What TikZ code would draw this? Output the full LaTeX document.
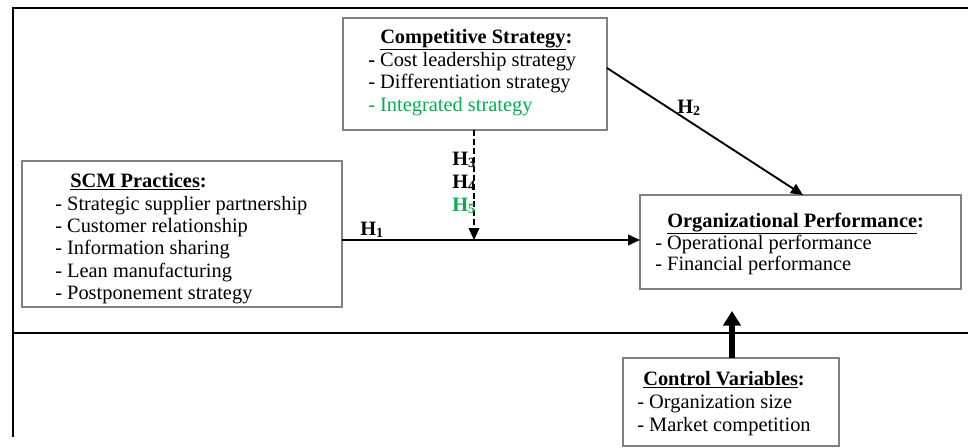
\documentclass[tikz,border=0pt]{standalone}
\usepackage{fontspec}
\setmainfont{Liberation Serif}
\usetikzlibrary{arrows.meta}
\definecolor{hgreen}{RGB}{0,176,80}
\definecolor{boxgray}{RGB}{128,128,128}
\newcommand\hlab[1]{\textbf{H\raisebox{-1.5pt}{\fontsize{10.5}{10.5}\selectfont #1}}}
\newcommand\ttl[1]{\textbf{\underline{#1}:}}
\tikzset{
  box/.style={draw=boxgray, line width=0.8pt, inner sep=0pt},
  txt/.style={anchor=base west, inner sep=0pt, font=\fontsize{15.3}{16.7}\selectfont},
  hl/.style={anchor=base west, inner sep=0pt, font=\fontsize{15.3}{16.7}\selectfont},
  frame/.style={line width=1.1pt},
  arr/.style={line width=1.4pt, -{Triangle[length=9pt,width=8pt]}},
  darr/.style={line width=1.3pt, dash pattern=on 4.5pt off 2.2pt, -{Triangle[length=9pt,width=8pt]}},
  tarr/.style={line width=4.5pt, -{Triangle[length=11pt,width=13pt]}}
}
\begin{document}
\begin{tikzpicture}[x=0.75pt,y=-0.75pt]
\useasboundingbox (0,0) rectangle (968,447);
% frame lines
\coordinate (f1) at (13,8);
\coordinate (f2) at (968,8);
\coordinate (f3) at (13,437);
\coordinate (f4) at (13,333);
\coordinate (f5) at (968,333);
\draw[frame] (f2) -- (f1) -- (f3);
\draw[frame] (f4) -- (f5);
% boxes
\draw[box] (343,18) rectangle (607,130);
\node[inner sep=0pt, minimum width=264*0.75pt, minimum height=112*0.75pt] (comp) at (475,74) {};
\draw[box] (22,161) rectangle (342,307);
\node[inner sep=0pt, minimum width=320*0.75pt, minimum height=146*0.75pt] (scm) at (182,234) {};
\draw[box] (640,195) rectangle (961,289);
\node[inner sep=0pt, minimum width=321*0.75pt, minimum height=94*0.75pt] (org) at (800.5,242) {};
\draw[box,fill=white] (623,358) rectangle (839,446);
\node[inner sep=0pt, minimum width=216*0.75pt, minimum height=88*0.75pt] (ctrl) at (731,402) {};
% competitive strategy text
\node[txt] (c0) at (380,43) {\ttl{Competitive Strategy}};
\node[txt] (c1) at (368,66) {\textbf{-} Cost leadership strategy};
\node[txt] (c2) at (368,88.5) {- Differentiation strategy};
\node[txt, text=hgreen] (c3) at (368,111) {- Integrated strategy};
% SCM text
\node[txt] (s0) at (70,187) {\ttl{SCM Practices}};
\node[txt] (s1) at (55,210) {- Strategic supplier partnership};
\node[txt] (s2) at (55,232) {- Customer relationship};
\node[txt] (s3) at (55,254.5) {- Information sharing};
\node[txt] (s4) at (55,277) {- Lean manufacturing};
\node[txt] (s5) at (55,299) {- Postponement strategy};
% Org performance text
\node[txt] (o0) at (667,227) {\ttl{Organizational Performance}};
\node[txt] (o1) at (655,249) {- Operational performance};
\node[txt] (o2) at (655,270.5) {- Financial performance};
% Control text
\node[txt] (k0) at (643,385) {\ttl{Control Variables}};
\node[txt] (k1) at (637,408) {- Organization size};
\node[txt] (k2) at (637,431) {- Market competition};
% arrows
\coordinate (h1s) at (342,240);
\coordinate (h1e) at (640,240);
\coordinate (ds) at (474,130);
\coordinate (de) at (474,240);
\coordinate (h2s) at (607,68);
\coordinate (h2e) at (803,195);
\coordinate (ts) at (732,358);
\coordinate (te) at (732,311);
\draw[arr] (h1s) -- (h1e);
\draw[darr] (ds) -- (de);
\draw[arr] (h2s) -- (h2e);
\draw[tarr] (ts) -- (te);
% labels
\node[hl] (L1) at (360,235) {\hlab{1}};
\node[hl] (L2) at (677,113) {\hlab{2}};
\node[hl] (L3) at (452,165) {\hlab{3}};
\node[hl] (L4) at (452,188) {\hlab{4}};
\node[hl, text=hgreen] (L5) at (452,211) {\hlab{5}};
\end{tikzpicture}
\end{document}
